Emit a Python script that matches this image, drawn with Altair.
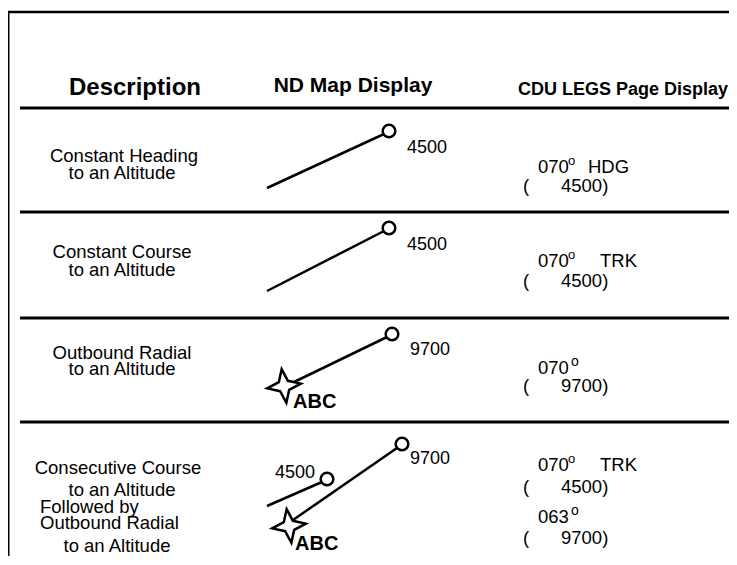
import altair as alt
import pandas as pd

FONT = "Liberation Sans"

# ---- line segments (frame, row separators, ND map tracks)
seg_x1 = [8, 8, 20, 20, 20, 20, 267, 267, 292, 267, 293]
seg_y1 = [12, 12, 108, 212, 318, 422, 188, 291, 383, 506, 520]
seg_x2 = [737, 8, 737, 737, 737, 737, 384, 384, 387, 322, 397]
seg_y2 = [12, 565, 108, 212, 318, 422, 134, 231, 337, 482, 448]
seg_w = [2.5, 3, 3, 3, 3, 3, 2.5, 2.5, 2.5, 2.5, 2.5]

# ---- altitude termination circles
circ_x = [389, 389, 392, 327, 402]
circ_y = [131, 228, 334, 479, 444]

# ---- VOR stars
star_x = [284, 289]
star_y = [386, 526]

# ---- column headers
head_text = ["Description", "ND Map Display", "CDU LEGS Page Display"]
head_x = [135, 353, 623]
head_y = [88, 86, 90]
head_size = [24, 21, 18]

# ---- description column (centered lines)
desc_c_text = ["Constant Heading", "to an Altitude", "Constant Course", "to an Altitude",
               "Outbound Radial", "to an Altitude", "Consecutive Course", "to an Altitude",
               "to an Altitude"]
desc_c_x = [124, 122, 122, 122, 122, 122, 118, 122, 117]
desc_c_y = [156, 173, 252, 270, 353, 369, 468, 490, 546]

# ---- description column (left aligned lines)
desc_l_text = ["Followed by", "Outbound Radial"]
desc_l_x = [40, 40]
desc_l_y = [507, 523]

# ---- ND altitude labels
alt_l_text = ["4500", "4500", "9700", "9700"]
alt_l_x = [407, 407, 410, 410]
alt_l_y = [148, 245, 350, 459]
alt_r_text = ["4500"]
alt_r_x = [315]
alt_r_y = [473]

# ---- navaid identifiers
id_text = ["ABC", "ABC"]
id_x = [293, 295]
id_y = [402, 544]

# ---- CDU LEGS entries (left aligned)
cdu_l_text = ["070", "HDG", "(", "070", "TRK", "(", "070", "(", "070", "TRK", "(", "063", "("]
cdu_l_x = [538, 588, 523, 538, 600, 523, 538, 523, 538, 600, 523, 538, 523]
cdu_l_y = [167, 167, 186, 261, 261, 281, 368, 386, 465, 465, 487, 517, 538]
# altitude constraints (left aligned)
cdu_r_text = ["4500)", "4500)", "9700)", "4500)", "9700)"]
cdu_r_x = [561, 561, 561, 561, 561]
cdu_r_y = [186, 281, 386, 487, 538]
# degree marks
deg_text = ["o", "o", "o", "o", "o"]
deg_x = [568, 568, 571, 568, 571]
deg_y = [161, 255, 362, 459, 511]
deg_size = [13, 13, 14, 13, 14]

xs = alt.Scale(domain=[8, 729], nice=False, zero=False)
ys = alt.Scale(domain=[8, 556], nice=False, zero=False, reverse=True)


def X(f="x"):
    return alt.X(f + ":Q", scale=xs, axis=None)


def Y(f="y"):
    return alt.Y(f + ":Q", scale=ys, axis=None)


segs = pd.DataFrame({"x": seg_x1, "y": seg_y1, "x2": seg_x2, "y2": seg_y2, "w": seg_w})
rules = alt.Chart(segs).mark_rule(color="black", strokeCap="butt").encode(
    x=X(), y=Y(), x2="x2:Q", y2="y2:Q",
    strokeWidth=alt.StrokeWidth("w:Q", scale=None, legend=None),
)

circles = alt.Chart(pd.DataFrame({"x": circ_x, "y": circ_y})).mark_point(
    shape="circle", size=160, filled=True, fill="white", stroke="black",
    strokeWidth=2.5, opacity=1,
).encode(x=X(), y=Y())

STAR = "M0,-1L0.27,-0.27L1,0L0.27,0.27L0,1L-0.27,0.27L-1,0L-0.27,-0.27Z"
stars = alt.Chart(pd.DataFrame({"x": star_x, "y": star_y})).mark_point(
    shape=STAR, size=1150, filled=True, fill="white", stroke="black",
    strokeWidth=2.5, opacity=1, angle=352,
).encode(x=X(), y=Y())


def text_layer(t, x, y, size, align="center", weight="normal"):
    df = pd.DataFrame({"x": x, "y": y, "t": t,
                       "s": size if isinstance(size, list) else [size] * len(t)})
    return alt.Chart(df).mark_text(
        font=FONT, fontWeight=weight, align=align, baseline="middle", color="black"
    ).encode(x=X(), y=Y(), text="t:N",
             size=alt.Size("s:Q", scale=None, legend=None))


layers = [
    rules, circles, stars,
    text_layer(head_text, head_x, head_y, head_size, "center", "bold"),
    text_layer(desc_c_text, desc_c_x, desc_c_y, 18.5, "center"),
    text_layer(desc_l_text, desc_l_x, desc_l_y, 18.5, "left"),
    text_layer(alt_l_text, alt_l_x, alt_l_y, 18, "left"),
    text_layer(alt_r_text, alt_r_x, alt_r_y, 18, "right"),
    text_layer(id_text, id_x, id_y, 20, "left", "bold"),
    text_layer(cdu_l_text, cdu_l_x, cdu_l_y, 18.5, "left"),
    text_layer(cdu_r_text, cdu_r_x, cdu_r_y, 18.5, "left"),
    text_layer(deg_text, deg_x, deg_y, deg_size, "left"),
]

chart = alt.layer(*layers).properties(
    width=721, height=548, padding=0,
    autosize=alt.AutoSizeParams(type="none"),
).configure_view(stroke=None)

chart.save("out.html", embed_options={"renderer": "svg", "actions": False})
